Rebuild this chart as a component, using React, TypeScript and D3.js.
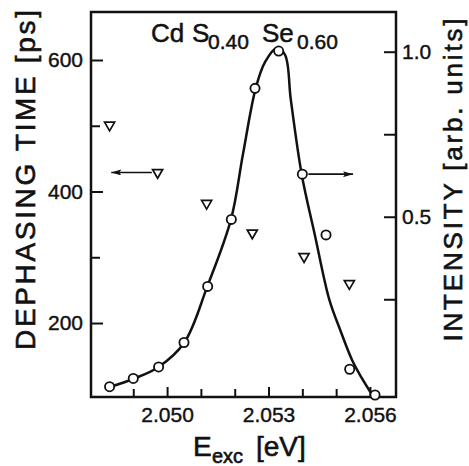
import * as d3 from 'd3';
import { useEffect, useRef } from 'react';

// excitation energies [eV] of the measured points
const energies = [2.0483, 2.049, 2.04975, 2.0505, 2.0512, 2.0519, 2.0526, 2.0533, 2.054, 2.0547, 2.0554, 2.05615];
// luminescence intensity (right axis, arb. units)
const intensity = [-0.015, 0.01, 0.045, 0.119, 0.289, 0.492, 0.889, 1.002, 0.629, 0.445, 0.038, -0.04];
// dephasing times (left axis, ps)
const dephasingEnergies = [2.0483, 2.04972, 2.05117, 2.05252, 2.05405, 2.05539];
const dephasingTime = [501, 429, 382, 337, 301, 260];
// hand-drawn fit through the intensity points
const fitEnergies = [2.04833, 2.04903, 2.04975, 2.05051, 2.05119, 2.05189, 2.05224, 2.05262, 2.0529, 2.05325, 2.05349, 2.05366, 2.05398, 2.05437, 2.0548, 2.05512, 2.05547, 2.05576, 2.05603];
const fitIntensity = [-0.015, 0.01, 0.045, 0.119, 0.289, 0.492, 0.687, 0.889, 0.969, 1.011, 0.99, 0.854, 0.629, 0.445, 0.248, 0.157, 0.066, 0.011, -0.034];

const energyTicks = [2.049, 2.05, 2.051, 2.052, 2.053, 2.054, 2.055, 2.056];
const energyLabels = ['2.050', '2.053', '2.056'];
const timeTicks = [200, 300, 400, 500, 600];
const timeLabels = ['200', '400', '600'];
const intensityTicks = [0.25, 0.5, 0.75, 1.0];
const intensityLabels = ['0.5', '1.0'];

// arrows pointing to the axis each data set belongs to
const leftArrow = { from: 2.04955, to: 2.04835, value: 429 };
const rightArrow = { from: 2.05418, to: 2.0555, value: 0.629 };

const FONT = '"Liberation Sans", Arial, sans-serif';
const INK = '#111';

export default function App() {
  const ref = useRef<SVGSVGElement>(null);

  useEffect(() => {
    const svg = d3.select(ref.current);
    svg.selectAll('*').remove();

    const W = 469, H = 466;
    const m = { left: 91, right: 396, top: 12, bottom: 397 };

    const x = d3.scaleLinear().domain([2.04775, 2.05677]).range([m.left, m.right]);
    const yL = d3.scaleLinear().domain([87.5, 673]).range([m.bottom, m.top]);
    const yR = d3.scaleLinear().domain([-0.0461, 1.1203]).range([m.bottom, m.top]);

    svg.attr('width', W).attr('height', H).attr('viewBox', `0 0 ${W} ${H}`);
    svg.append('rect').attr('width', W).attr('height', H).attr('fill', '#fff');

    const styleAxis = (g: any, labels: string[], fmt: (d: number) => string, major: number, minor: number, horiz: boolean) => {
      g.select('.domain').remove();
      g.selectAll('.tick line')
        .attr('stroke', INK)
        .attr('stroke-width', 2)
        .attr(horiz ? 'y2' : 'x2', (d: number) => (labels.includes(fmt(d)) ? major : minor));
      g.selectAll('.tick text')
        .text((d: number) => (labels.includes(fmt(d)) ? fmt(d) : ''))
        .attr('font-family', FONT)
        .attr('font-size', 21)
        .attr('fill', INK)
        .attr('stroke', INK)
        .attr('stroke-width', 0.4);
    };

    const fmtE = d3.format('.3f');
    const fmtT = d3.format('d');
    const fmtI = d3.format('.1f');

    svg.append('g')
      .attr('transform', `translate(0,${m.bottom})`)
      .call(d3.axisBottom(x).tickValues(energyTicks).tickSizeInner(-10).tickPadding(10))
      .call((g: any) => styleAxis(g, energyLabels, fmtE, -10, -8, true));

    svg.append('g')
      .attr('transform', `translate(${m.left},0)`)
      .call(d3.axisLeft(yL).tickValues(timeTicks).tickSizeInner(-12).tickPadding(8))
      .call((g: any) => styleAxis(g, timeLabels, fmtT, 12, 9, false));

    svg.append('g')
      .attr('transform', `translate(${m.right},0)`)
      .call(d3.axisRight(yR).tickValues(intensityTicks).tickSizeInner(-12).tickPadding(6))
      .call((g: any) => styleAxis(g, intensityLabels, fmtI, -12, -12, false));

    // frame
    svg.append('rect')
      .attr('x', m.left).attr('y', m.top)
      .attr('width', m.right - m.left).attr('height', m.bottom - m.top)
      .attr('fill', 'none').attr('stroke', INK).attr('stroke-width', 2.5);

    // fit curve
    const line = d3.line<number>()
      .x((_, i) => x(fitEnergies[i]))
      .y((d) => yR(d))
      .curve(d3.curveCatmullRom.alpha(0.5));
    svg.append('path')
      .attr('d', line(fitIntensity))
      .attr('fill', 'none').attr('stroke', INK).attr('stroke-width', 2.5);

    // intensity circles
    svg.append('g').selectAll('circle').data(intensity).join('circle')
      .attr('cx', (_, i) => x(energies[i]))
      .attr('cy', (d) => yR(d))
      .attr('r', 4.6)
      .attr('fill', '#fff').attr('stroke', INK).attr('stroke-width', 1.8);

    // dephasing triangles
    const tri = d3.symbol().type(d3.symbolTriangle).size(44);
    svg.append('g').selectAll('path').data(dephasingTime).join('path')
      .attr('d', tri)
      .attr('transform', (d, i) => `translate(${x(dephasingEnergies[i])},${yL(d)}) rotate(180)`)
      .attr('fill', '#fff').attr('stroke', INK).attr('stroke-width', 1.7);

    // arrows
    const defs = svg.append('defs');
    defs.append('marker')
      .attr('id', 'head').attr('viewBox', '0 0 10 6').attr('refX', 10).attr('refY', 3)
      .attr('markerWidth', 10).attr('markerHeight', 6).attr('markerUnits', 'userSpaceOnUse')
      .attr('orient', 'auto')
      .append('path').attr('d', 'M0,0 L10,3 L0,6 L2,3 Z').attr('fill', INK);
    svg.append('line')
      .attr('x1', x(leftArrow.from)).attr('x2', x(leftArrow.to))
      .attr('y1', yL(leftArrow.value)).attr('y2', yL(leftArrow.value))
      .attr('stroke', INK).attr('stroke-width', 1.6).attr('marker-end', 'url(#head)');
    svg.append('line')
      .attr('x1', x(rightArrow.from)).attr('x2', x(rightArrow.to))
      .attr('y1', yR(rightArrow.value)).attr('y2', yR(rightArrow.value))
      .attr('stroke', INK).attr('stroke-width', 1.6).attr('marker-end', 'url(#head)');

    // title
    const title = svg.append('text').attr('font-family', FONT).attr('fill', INK)
      .attr('stroke', INK).attr('stroke-width', 0.5);
    title.append('tspan').attr('x', 151).attr('y', 42).attr('font-size', 26).text('Cd');
    title.append('tspan').attr('x', 192).attr('y', 42).attr('font-size', 26).text('S');
    title.append('tspan').attr('x', 208).attr('y', 49).attr('font-size', 21).text('0.40');
    title.append('tspan').attr('x', 262).attr('y', 42).attr('font-size', 26).text('Se');
    title.append('tspan').attr('x', 297).attr('y', 49).attr('font-size', 21).text('0.60');

    // axis titles
    svg.append('text')
      .attr('transform', 'translate(35,180) rotate(-90)')
      .attr('text-anchor', 'middle').attr('font-family', FONT).attr('font-size', 28)
      .attr('textLength', 340).attr('lengthAdjust', 'spacing').attr('fill', INK)
      .attr('stroke', INK).attr('stroke-width', 0.6)
      .text('DEPHASING TIME [ps]');
    svg.append('text')
      .attr('transform', 'translate(462,180) rotate(-90)')
      .attr('text-anchor', 'middle').attr('font-family', FONT).attr('font-size', 26)
      .attr('textLength', 323).attr('lengthAdjust', 'spacing').attr('fill', INK)
      .attr('stroke', INK).attr('stroke-width', 0.6)
      .text('INTENSITY [arb. units]');

    const xl = svg.append('text').attr('font-family', FONT).attr('fill', INK)
      .attr('stroke', INK).attr('stroke-width', 0.6);
    xl.append('tspan').attr('x', 193).attr('y', 456).attr('font-size', 28).text('E');
    xl.append('tspan').attr('x', 212).attr('y', 463).attr('font-size', 20).text('exc');
    xl.append('tspan').attr('x', 256).attr('y', 456).attr('font-size', 28).text('[eV]');
  }, []);

  return <svg ref={ref} style={{ position: 'fixed', left: 0, top: 0 }} />;
}
